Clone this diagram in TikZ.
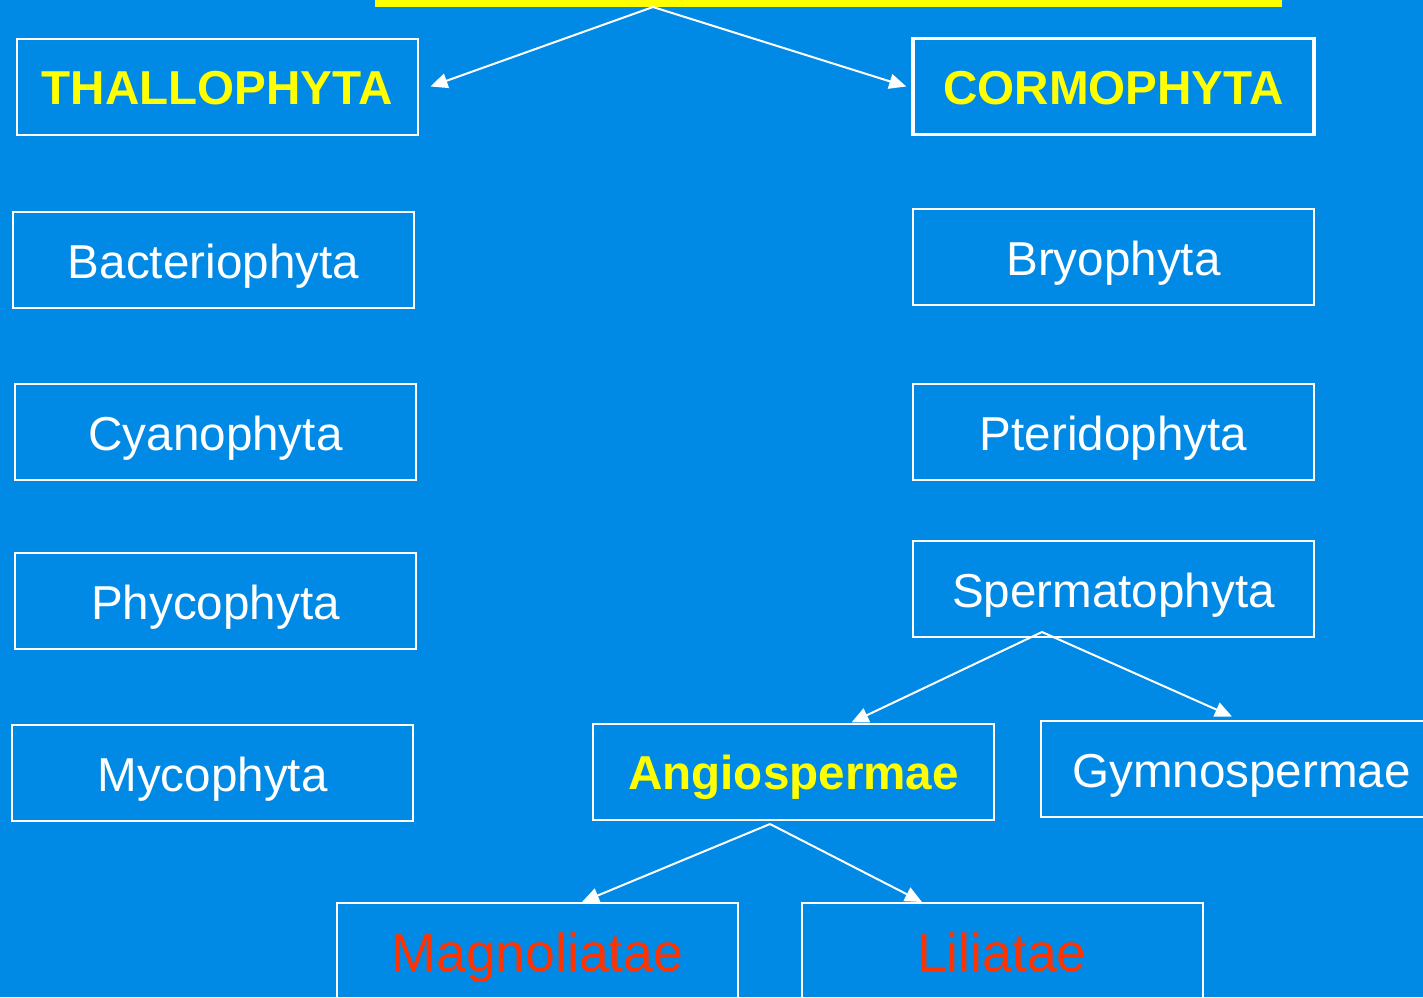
\documentclass[tikz,border=0pt]{standalone}
\usepackage{fontspec}
\setmainfont{Liberation Sans}
\usetikzlibrary{arrows.meta,calc}
\definecolor{bg}{RGB}{0,138,230}
\definecolor{ttlyellow}{RGB}{255,255,0}
\definecolor{redtxt}{RGB}{255,51,0}
\tikzset{
  box/.style={draw=white, line width=2pt, minimum width=401pt, minimum height=96pt, inner sep=0pt,
    text=white, font=\fontsize{47.6}{52}\selectfont, text height=37pt, text depth=0pt},
  bigbox/.style={box, line width=3.5pt},
  boldy/.style={text=ttlyellow, font=\fontsize{47.6}{52}\selectfont\bfseries, text height=36pt},
  redlab/.style={text=redtxt, font=\fontsize{53.5}{58}\selectfont, text height=40pt},
  arr/.style={draw=white, line width=2pt, -{Triangle[length=17pt,width=15pt]}}
}
\begin{document}
\begin{tikzpicture}[x=1pt,y=-1pt]
\fill[bg] (0,0) rectangle (1423,997);
\useasboundingbox (0,0) rectangle (1423,997);
% top yellow bar (cut off)
\node[fill=ttlyellow, minimum width=907pt, minimum height=20pt, inner sep=0pt] (top) at (828.5,-3) {};
\coordinate (t0) at (653,7);
% left column
\node[box, boldy] (thal) at (217,86.5) {THALLOPHYTA};
\node[box] (bact) at (213.5,260) {Bacteriophyta};
\node[box] (cyan) at (215.5,432) {Cyanophyta};
\node[box] (phyc) at (215.5,601) {Phycophyta};
\node[box] (myco) at (212.5,773) {Mycophyta};
% right column
\node[bigbox, boldy] (corm) at (1113.5,86.5) {CORMOPHYTA};
\node[box] (bryo) at (1113.5,257) {Bryophyta};
\node[box] (pter) at (1113.5,432) {Pteridophyta};
\node[box] (sperm) at (1113.5,589) {Spermatophyta};
\node[box, boldy] (angio) at (793.5,771.5) {Angiospermae};
\node[box] (gymno) at (1241.5,768.5) {Gymnospermae};
\node[box, redlab] (magn) at (537.5,951) {Magnoliatae};
\node[box, redlab] (lili) at (1002,951) {Liliatae};
% connectors
\draw[arr] (t0) -- ([xshift=12pt]thal.east);
\draw[arr] (t0) -- ([xshift=-5pt]corm.west);
\draw[arr] ([xshift=-71.5pt,yshift=6pt]sperm.south) -- ([xshift=58pt]angio.north);
\draw[arr] ([xshift=-71.5pt,yshift=6pt]sperm.south) -- ([xshift=192pt,yshift=3pt]gymno.north west);
\draw[arr] ([xshift=-23.5pt,yshift=-3.5pt]angio.south) -- ([xshift=44.5pt]magn.north);
\draw[arr] ([xshift=-23.5pt,yshift=-3.5pt]angio.south) -- ([xshift=-80pt]lili.north);
\end{tikzpicture}
\end{document}
